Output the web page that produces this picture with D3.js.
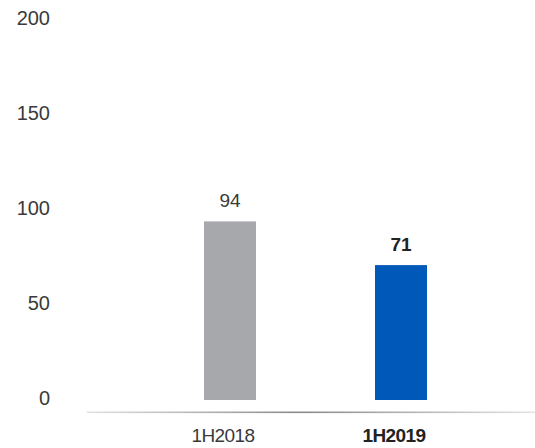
<!DOCTYPE html>
<html><head><meta charset="utf-8">
<script src="https://cdn.jsdelivr.net/npm/d3@7"></script>
<style>
html,body{margin:0;padding:0;background:#fff;}
svg{display:block;}
text{font-family:"Liberation Sans",Arial,Helvetica,sans-serif;}
</style></head>
<body>
<svg id="chart" width="535" height="448"></svg>
<script>
const categories = ["1H2018", "1H2019"];
const values = [94, 71];
const valueLabels = ["94", "71"];
const yTicks = [0, 50, 100, 150, 200];
const barColors = ["#a7a8ac", "#0058b8"];
const highlight = [false, true];

const svg = d3.select("#chart");
const W = 535, H = 448;

const y = d3.scaleLinear().domain([0, 200]).range([400, 20]);
const x = d3.scaleBand().domain(categories).range([118.5, 512.5])
  .paddingInner(0.696).paddingOuter(0.5);

// gradient baseline
const defs = svg.append("defs");
const g = defs.append("linearGradient").attr("id","base").attr("x1","0%").attr("x2","100%");
g.append("stop").attr("offset","0%").attr("stop-color","#e2e2e2");
g.append("stop").attr("offset","48%").attr("stop-color","#8a8a8a");
g.append("stop").attr("offset","100%").attr("stop-color","#e4e4e4");
svg.append("rect").attr("x",87).attr("y",411.5).attr("width",W-87).attr("height",1.6)
  .attr("fill","url(#base)");

// y axis labels
const yAxis = d3.axisLeft(y).tickValues(yTicks).tickSize(0).tickPadding(0);
const ya = svg.append("g").attr("transform","translate(50,-2)").call(yAxis);
ya.select(".domain").remove();
ya.selectAll("text").attr("font-size",20).attr("fill","#3a3a3a")
  .attr("font-family","'Liberation Sans',Arial,sans-serif");

// bars
svg.selectAll("rect.bar").data(categories).enter().append("rect")
  .attr("class","bar")
  .attr("x", d => x(d))
  .attr("y", (d,i) => y(values[i]))
  .attr("width", x.bandwidth())
  .attr("height", (d,i) => y(0) - y(values[i]))
  .attr("fill", (d,i) => barColors[i]);

// value labels
svg.selectAll("text.val").data(categories).enter().append("text")
  .attr("class","val")
  .attr("x", d => x(d) + x.bandwidth()/2)
  .attr("y", (d,i) => y(values[i]) - 14)
  .attr("text-anchor","middle")
  .attr("font-size",19)
  .attr("font-weight",(d,i)=> highlight[i] ? "bold" : "normal")
  .attr("fill",(d,i)=> highlight[i] ? "#222" : "#3a3a3a")
  .text((d,i)=> valueLabels[i]);

// x axis labels
const xAxis = d3.axisBottom(x).tickSize(0).tickPadding(0);
const xa = svg.append("g").attr("transform","translate(-7,442)").call(xAxis);
xa.select(".domain").remove();
xa.selectAll("text").attr("dy",0).attr("font-size",19)
  .attr("font-family","'Liberation Sans',Arial,sans-serif")
  .attr("letter-spacing","-0.6px")
  .attr("font-weight",(d,i)=> highlight[i] ? "bold" : "normal")
  .attr("fill",(d,i)=> highlight[i] ? "#222" : "#3a3a3a");
</script>
</body></html>
